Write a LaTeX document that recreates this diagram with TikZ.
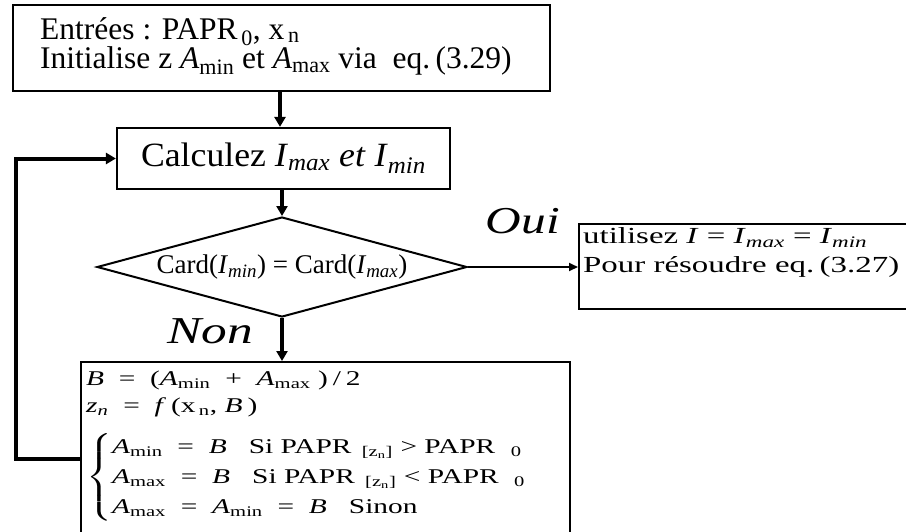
\documentclass[tikz,border=0pt]{standalone}
\usepackage{amsmath}
\usepackage{graphicx}
\usepackage{fontspec}
\setmainfont{Liberation Serif}
\usepackage{tikz}
\usetikzlibrary{arrows.meta, positioning, shapes.geometric, calc}
% variable en italique avec indice
\newcommand{\vsub}[2]{\textit{#1}\textsubscript{#2}}
\newcommand{\isub}[2]{\textit{#1}\textsubscript{\textit{#2}}}
\newcommand{\wide}[2]{\scalebox{#1}[1]{#2}}

\begin{document}
\begin{tikzpicture}[
  x=1pt, y=-1pt,
  box/.style={draw, line width=2.2pt, inner sep=0pt},
  txt/.style={anchor=north west, inner sep=0pt, align=left},
  dec/.style={draw, diamond, aspect=3.7, line width=2pt, inner sep=0pt,
              minimum width=370pt, minimum height=100pt,
              font=\fontsize{27}{30}\selectfont},
  tag/.style={font=\fontsize{38}{40}\selectfont\itshape, inner sep=0pt},
  arr/.style={-{Triangle[length=10pt, width=11pt]}, line width=4pt},
  oarr/.style={-{Triangle[length=9pt, width=8pt]}, line width=2pt},
]
  \useasboundingbox (0,0) rectangle (906,531);

  \node[box, anchor=north west, minimum width=537pt, minimum height=86pt] (init) at (12,4) {};
  \node[txt, font=\fontsize{31.5}{27}\selectfont] (inittxt) at ([shift={(28pt,-13pt)}]init.north west)
    {Entrées : PAPR\textsubscript{\,0}, x\textsubscript{\,n}\\
     Initialise z \vsub{A}{min} et \vsub{A}{max} via~ eq.\,(3.29)};
  \node[box, minimum width=333pt, minimum height=61pt,
        font=\fontsize{34}{36}\selectfont] (calc) at (283.5,158.5)
    {\wide{1.05}{Calculez \isub{I}{max} \textit{et} \isub{I}{min}}};
  \node[dec] (card) at (282,267) {Card(\isub{I}{min}) = Card(\isub{I}{max})};

  \node[box, anchor=north west, minimum width=360pt, minimum height=85pt] (use) at (578,223) {};
  \node[txt, font=\fontsize{23}{29}\selectfont] (usetxt) at ([shift={(5pt,0pt)}]use.north west)
    {\wide{1.43}{\begin{tabular}{@{}l@{}}
       utilisez \textit{I} = \isub{I}{max} = \isub{I}{min}\\
       Pour résoudre eq.\,(3.27)
     \end{tabular}}};

  % bloc de mise a jour (coupe en bas)
  \node[box, anchor=north west, minimum width=489pt, minimum height=200pt] (upd) at (80,361) {};
  \node[txt, font=\fontsize{21}{27}\selectfont] (updtxt) at ([shift={(6pt,-5pt)}]upd.north west)
    {\wide{1.4}{\begin{tabular}{@{}l@{}}
       \textit{B}~ = ~(\vsub{A}{min}~ + ~\vsub{A}{max}~)\,/\,2\\
       \isub{z}{n}~ = ~\textit{f}\,(x\textsubscript{\,n}, \textit{B}\,)\\[12pt]
       $\left\{\fontsize{21}{30}\selectfont\begin{tabular}{@{}l@{}}
         \vsub{A}{min}~ = ~\textit{B}~~ Si PAPR\textsubscript{~~[z\textsubscript{n}]} > PAPR\textsubscript{~~~0}\\
         \vsub{A}{max}~ = ~\textit{B}~~ Si PAPR\textsubscript{~~[z\textsubscript{n}]} < PAPR\textsubscript{~~~0}\\
         \vsub{A}{max}~ = ~\vsub{A}{min}~ = ~\textit{B}~~ Sinon
       \end{tabular}\right.$
     \end{tabular}}};

  \coordinate (back) at (80,459);
  \coordinate (turn) at (16,459);

  \draw[arr] (init.south -| 280,0) -- (calc.north -| 280,0);
  \draw[arr] (card.north |- calc.south) -- (card.north);
  \draw[oarr] (card.east) -- node[tag, above=32pt, midway] {\wide{1.3}{Oui}} (card.east -| use.west);
  \draw[arr] (card.south) -- node[tag, left=27pt, pos=0.3] {\wide{1.35}{Non}} (card.south |- upd.north);
  \draw[arr] (back) -- (turn) |- (calc.west);
\end{tikzpicture}
\end{document}
